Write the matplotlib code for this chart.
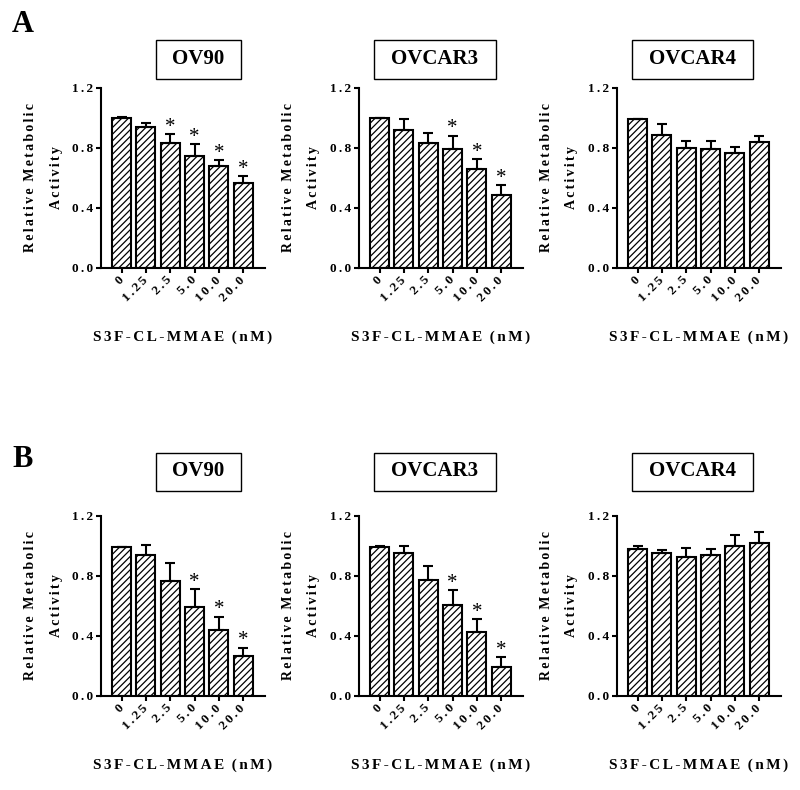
"""
Relative metabolic activity of ovarian cancer cell lines
treated with S3F-CL-MMAE (panels A and B)
"""

import numpy as np
import matplotlib
matplotlib.use('Agg')
import matplotlib.pyplot as plt
from matplotlib.patches import Rectangle

# doses on the x axis
doses = ['0', '1.25', '2.5', '5.0', '10.0', '20.0']
cell_lines = ['OV90', 'OVCAR3', 'OVCAR4']

# panel A: means, upper error, significance
a_ov90 = [1.0, 0.937, 0.832, 0.747, 0.680, 0.564]
a_ov90_err = [0.005, 0.033, 0.060, 0.078, 0.040, 0.049]
a_ov90_star = [0, 0, 1, 1, 1, 1]

a_ovcar3 = [1.0, 0.921, 0.832, 0.794, 0.662, 0.489]
a_ovcar3_err = [0.0, 0.074, 0.071, 0.089, 0.063, 0.064]
a_ovcar3_star = [0, 0, 0, 1, 1, 1]

a_ovcar4 = [0.995, 0.886, 0.799, 0.792, 0.765, 0.843]
a_ovcar4_err = [0.0, 0.073, 0.049, 0.056, 0.040, 0.038]
a_ovcar4_star = [0, 0, 0, 0, 0, 0]

# panel B
b_ov90 = [0.996, 0.940, 0.767, 0.596, 0.440, 0.269]
b_ov90_err = [0.0, 0.067, 0.117, 0.117, 0.089, 0.053]
b_ov90_star = [0, 0, 0, 1, 1, 1]

b_ovcar3 = [0.996, 0.951, 0.773, 0.607, 0.427, 0.196]
b_ovcar3_err = [0.004, 0.049, 0.096, 0.100, 0.084, 0.064]
b_ovcar3_star = [0, 0, 0, 1, 1, 1]

b_ovcar4 = [0.982, 0.951, 0.929, 0.942, 1.002, 1.018]
b_ovcar4_err = [0.020, 0.020, 0.060, 0.036, 0.071, 0.078]
b_ovcar4_star = [0, 0, 0, 0, 0, 0]

y_ticks = [0.0, 0.4, 0.8, 1.2]

plt.rcParams['font.family'] = ['Liberation Serif', 'DejaVu Serif']
plt.rcParams['font.weight'] = 'bold'
plt.rcParams['hatch.linewidth'] = 0.9

W, H = 800, 790
GAP = '\u2006'   # six-per-em space between letters


def spaced(text):
    """Mimic the wide letter spacing of the original figure"""
    return (GAP * 3).join(GAP.join(word) for word in text.split(' '))


def fx(px):
    return px / W


def fy(py):
    return 1 - py / H


def draw_panel(fig, left, top, values, errors, stars, name, box):
    ax = fig.add_axes([fx(left), fy(top + 180), 164 / W, 180 / H])
    x = np.arange(len(doses))
    ax.bar(x, values, width=0.78, color='white', edgecolor='black',
           linewidth=1.5, hatch='/////', zorder=2)
    ax.errorbar(x, values, yerr=[np.zeros(len(errors)), errors], fmt='none',
                ecolor='black', elinewidth=1.5, capsize=3.3, capthick=1.5,
                zorder=3)
    for xi, v, e, s in zip(x, values, errors, stars):
        if s:
            ax.annotate('*', (xi, v + e), xytext=(0, -2), textcoords='offset points',
                        ha='center', va='bottom', fontsize=15, fontweight='normal')

    ax.set_xlim(-0.85, 5.9)
    ax.set_ylim(0, 1.2)
    ax.set_yticks(y_ticks)
    ax.set_yticklabels([spaced(f'{t:.1f}') for t in y_ticks])
    ax.set_xticks(x)
    ax.set_xticklabels([spaced(d) for d in doses], rotation=45, ha='right',
                       va='center', rotation_mode='anchor')
    for side in ['top', 'right']:
        ax.spines[side].set_visible(False)
    for side in ['left', 'bottom']:
        ax.spines[side].set_linewidth(1.5)
    ax.tick_params(direction='out', length=3.5, width=1.5, labelsize=9.5, pad=2)
    ax.tick_params(axis='x', pad=4)

    # y label on two lines
    cy = top + 90
    fig.text(fx(left - 70), fy(cy), spaced('Relative Metabolic'), rotation=90,
             ha='center', va='center', fontsize=10)
    fig.text(fx(left - 45), fy(cy), spaced('Activity'), rotation=90,
             ha='center', va='center', fontsize=10)
    # x label
    fig.text(fx(left + 82), fy(top + 249), spaced('S3F-CL-MMAE (nM)'),
             ha='center', va='center', fontsize=11)

    # boxed title
    bx0, bx1, by = box
    fig.patches.append(Rectangle((fx(bx0), fy(by + 19)), (bx1 - bx0) / W, 38 / H,
                                 transform=fig.transFigure, fill=False,
                                 edgecolor='black', linewidth=1.0))
    fig.text(fx((bx0 + bx1) / 2), fy(by), name, ha='center', va='center',
             fontsize=15)
    return ax


def main():
    fig = plt.figure(figsize=(W / 100, H / 100), dpi=100)

    lefts = [101, 359, 617]
    boxes_x = [(156, 241), (374, 496), (632, 753)]

    panel_a = [(a_ov90, a_ov90_err, a_ov90_star),
               (a_ovcar3, a_ovcar3_err, a_ovcar3_star),
               (a_ovcar4, a_ovcar4_err, a_ovcar4_star)]
    panel_b = [(b_ov90, b_ov90_err, b_ov90_star),
               (b_ovcar3, b_ovcar3_err, b_ovcar3_star),
               (b_ovcar4, b_ovcar4_err, b_ovcar4_star)]

    for row, top, box_y in [(panel_a, 88, 59.5), (panel_b, 516, 471.5)]:
        for (vals, errs, stars), name, left, (bx0, bx1) in zip(row, cell_lines, lefts, boxes_x):
            draw_panel(fig, left, top, vals, errs, stars, name, (bx0, bx1, box_y))

    fig.text(fx(12), fy(10), 'A', ha='left', va='top', fontsize=22)
    fig.text(fx(12), fy(445), 'B', ha='left', va='top', fontsize=22)

    fig.savefig('out.png', dpi=100, facecolor='white')


if __name__ == '__main__':
    main()
